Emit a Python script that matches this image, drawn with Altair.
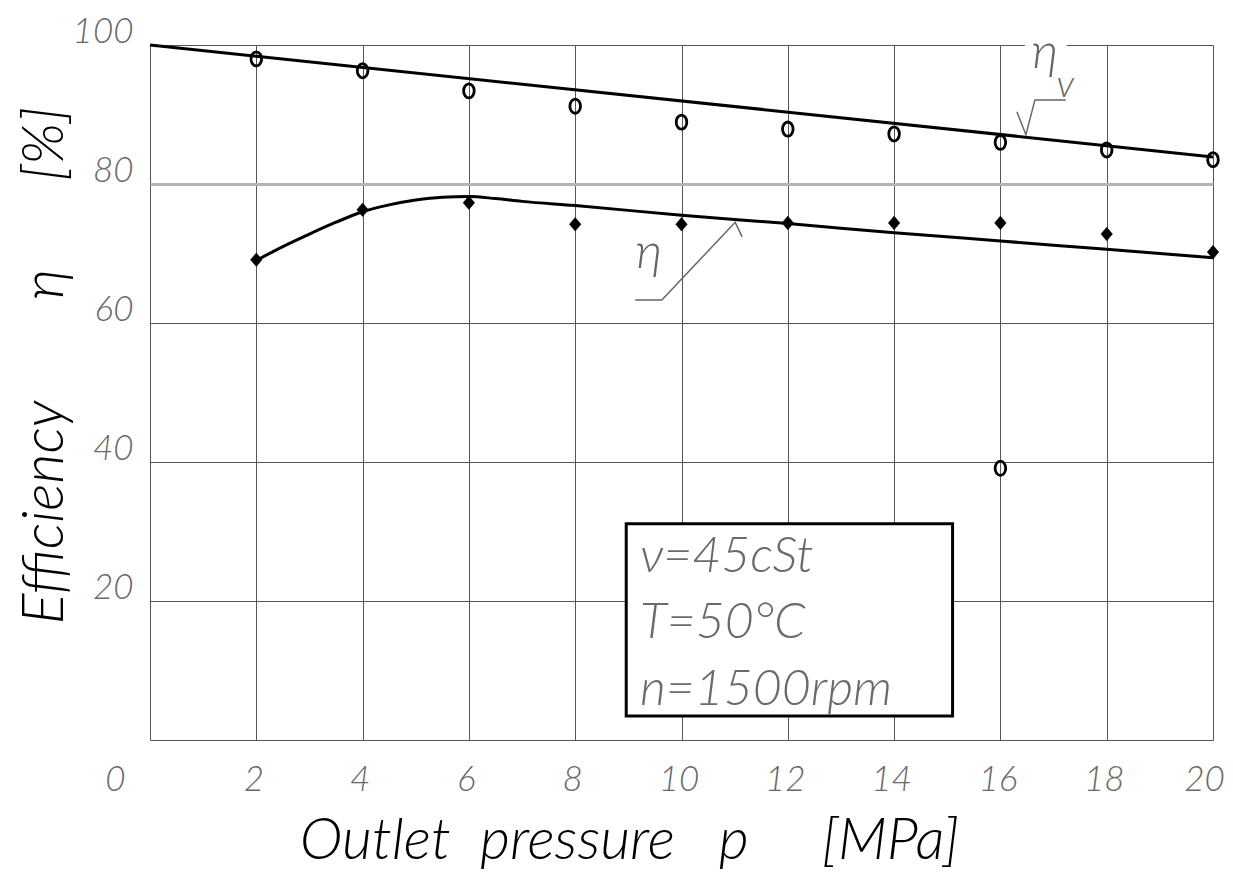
import altair as alt
import pandas as pd

# ---- data ----
pressure = [2, 4, 6, 8, 10, 12, 14, 16, 18, 20]
eta_v_measured = [98.0, 96.3, 93.4, 91.2, 88.9, 87.9, 87.2, 86.0, 84.9, 83.5]
eta_measured = [69.1, 76.3, 77.3, 74.2, 74.2, 74.4, 74.4, 74.4, 72.8, 70.2]
outlier_p = [16]
outlier_eta_v = [39.1]

eta_v_fit_p = [0, 20]
eta_v_fit = [100.0, 83.9]
eta_fit_p = [2, 2.5, 3, 3.5, 4, 4.5, 5, 5.5, 6, 6.5, 7, 8, 10, 12, 14, 16, 18, 20]
eta_fit = [69.0, 71.0, 72.8, 74.5, 76.0, 77.0, 77.7, 78.1, 78.2, 77.9, 77.5,
           76.9, 75.5, 74.3, 73.0, 71.8, 70.6, 69.4]

x_ticks = [0, 2, 4, 6, 8, 10, 12, 14, 16, 18, 20]
y_ticks = [0, 20, 40, 60, 80, 100]

box_x = [8.96, 15.1]
box_y = [31.1, 3.45]
box_lines = ["ν=45cSt", "T=50°C", "n=1500rpm"]
box_line_y = [24.2, 14.7, 5.0]
box_text_x = 9.22

lead_v_x = [16.31, 16.48, 16.65, 17.23]
lead_v_y = [90.4, 87.1, 92.1, 92.1]
lead_eta_x = [9.13, 9.63, 11.01, 11.14]
lead_eta_y = [63.3, 63.3, 74.5, 72.4]

label_text = ["η", "v", "η"]
label_x = [16.84, 17.22, 9.39]
label_y = [96.7, 92.5, 67.9]
label_size = [50, 38, 50]

gap_x = [16.46, 17.25]
gap_y = 100

NB = "\u00a0"
x_title = "Outlet" + NB * 2 + "pressure" + NB * 3 + "p" + NB * 5 + "[MPa]"
y_title = "Efficiency" + NB * 7 + "η" + NB * 6 + "[%]"

# ---- scales / axes ----
xs = alt.Scale(domain=[0, 20], nice=False, zero=False)
ys = alt.Scale(domain=[0, 100], nice=False, zero=False)
TICK_FONT = "Lato, Liberation Sans, sans-serif"
TITLE_FONT = "Lato, DejaVu Sans, sans-serif"

x_axis = alt.Axis(
    values=x_ticks, grid=True, gridColor="#555", gridWidth=1,
    domain=False, ticks=False,
    labelFont=TICK_FONT, labelFontSize=35, labelFontStyle="italic", labelFontWeight=300,
    labelColor="#6a6a6a", labelPadding=22, labelBaseline="top",
    labelOffset={"condition": [
        {"test": "datum.value == 0", "value": -35},
        {"test": "datum.value == 20", "value": -9},
    ], "value": -3},
    labelFlush=False, labelOverlap=False,
    title=x_title, titleFont=TITLE_FONT, titleFontSize=58,
    titleFontStyle="italic", titleFontWeight=300, titleColor="#000",
    titleX=479, titleY=118, titleBaseline="alphabetic", titleAlign="center",
)
y_axis = alt.Axis(
    values=y_ticks, grid=True,
    gridColor={"condition": {"test": "datum.value == 80", "value": "#b5b5b5"}, "value": "#555"},
    gridWidth={"condition": {"test": "datum.value == 80", "value": 3}, "value": 1},
    domain=False, ticks=False,
    labelExpr="datum.value == 0 ? '' : datum.label",
    labelFont=TICK_FONT, labelFontSize=35, labelFontStyle="italic", labelFontWeight=300,
    labelColor="#6a6a6a", labelPadding=17, labelOffset=-14, labelAlign="right",
    labelFlush=False, labelOverlap=False,
    title=y_title, titleFont=TITLE_FONT, titleFontSize=58,
    titleFontStyle="italic", titleFontWeight=300, titleColor="#000",
    titleX=-88, titleY=320, titleBaseline="alphabetic", titleAlign="center",
    titleAngle=270,
)

# ---- layers ----
fit_v_df = pd.DataFrame({"p": eta_v_fit_p, "v": eta_v_fit})
fit_v = alt.Chart(fit_v_df).mark_line(color="black", strokeWidth=3).encode(
    x=alt.X("p:Q", scale=xs, axis=x_axis),
    y=alt.Y("v:Q", scale=ys, axis=y_axis),
)

fit_e_df = pd.DataFrame({"p": eta_fit_p, "v": eta_fit})
fit_e = alt.Chart(fit_e_df).mark_line(color="black", strokeWidth=3, interpolate="monotone").encode(
    x=alt.X("p:Q", scale=xs), y=alt.Y("v:Q", scale=ys)
)

circ_df = pd.DataFrame({"p": pressure + outlier_p, "v": eta_v_measured + outlier_eta_v})
ellipse = "M-0.75,0A0.75,1,0,1,1,0.75,0A0.75,1,0,1,1,-0.75,0Z"
circles = alt.Chart(circ_df).mark_point(
    shape=ellipse, size=200, filled=False, stroke="black", strokeWidth=2.8, opacity=1
).encode(x=alt.X("p:Q", scale=xs), y=alt.Y("v:Q", scale=ys))

diam_df = pd.DataFrame({"p": pressure, "v": eta_measured})
diamond = "M0,-1L0.85,0L0,1L-0.85,0Z"
diamonds = alt.Chart(diam_df).mark_point(
    shape=diamond, size=185, filled=True, fill="black", stroke="black", strokeWidth=0.5, opacity=1
).encode(x=alt.X("p:Q", scale=xs), y=alt.Y("v:Q", scale=ys))

box_df = pd.DataFrame({"x": [box_x[0]], "x2": [box_x[1]], "y": [box_y[0]], "y2": [box_y[1]]})
box = alt.Chart(box_df).mark_rect(fill="white", stroke="black", strokeWidth=3).encode(
    x=alt.X("x:Q", scale=xs), x2="x2:Q", y=alt.Y("y:Q", scale=ys), y2="y2:Q"
)

box_txt_df = pd.DataFrame({"t": box_lines, "y": box_line_y, "x": [box_text_x] * len(box_lines)})
box_txt = alt.Chart(box_txt_df).mark_text(
    align="left", baseline="alphabetic", font=TICK_FONT, fontSize=50,
    fontStyle="italic", fontWeight=300, color="#6a6a6a"
).encode(x=alt.X("x:Q", scale=xs), y=alt.Y("y:Q", scale=ys), text="t:N")

lead_df = pd.DataFrame({
    "x": lead_v_x + lead_eta_x,
    "y": lead_v_y + lead_eta_y,
    "g": ["v"] * len(lead_v_x) + ["e"] * len(lead_eta_x),
    "o": list(range(len(lead_v_x))) + list(range(len(lead_eta_x))),
})
leaders = alt.Chart(lead_df).mark_line(color="#666", strokeWidth=1.5).encode(
    x=alt.X("x:Q", scale=xs), y=alt.Y("y:Q", scale=ys), detail="g:N", order="o:Q"
)

gap_df = pd.DataFrame({"x": [gap_x[0]], "x2": [gap_x[1]], "y": [gap_y]})
gap = alt.Chart(gap_df).mark_rule(color="white", strokeWidth=5).encode(
    x=alt.X("x:Q", scale=xs), x2="x2:Q", y=alt.Y("y:Q", scale=ys)
)

lab_df = pd.DataFrame({"t": label_text, "x": label_x, "y": label_y, "s": label_size})
labels = alt.Chart(lab_df).mark_text(
    align="center", baseline="alphabetic", font=TICK_FONT, fontStyle="italic",
    fontWeight=300, color="#666"
).encode(
    x=alt.X("x:Q", scale=xs), y=alt.Y("y:Q", scale=ys), text="t:N",
    size=alt.Size("s:Q", scale=None, legend=None),
)

chart = alt.layer(
    fit_v, gap, fit_e, box, box_txt, leaders, labels, circles, diamonds
).properties(
    width=1063, height=695,
    autosize=alt.AutoSizeParams(type="none"),
    padding={"left": 142, "top": 37, "right": 12, "bottom": 130},
).configure_view(stroke="#555", strokeWidth=1).configure(background="white")

chart.save("out.html", embed_options={"renderer": "svg", "actions": False})
